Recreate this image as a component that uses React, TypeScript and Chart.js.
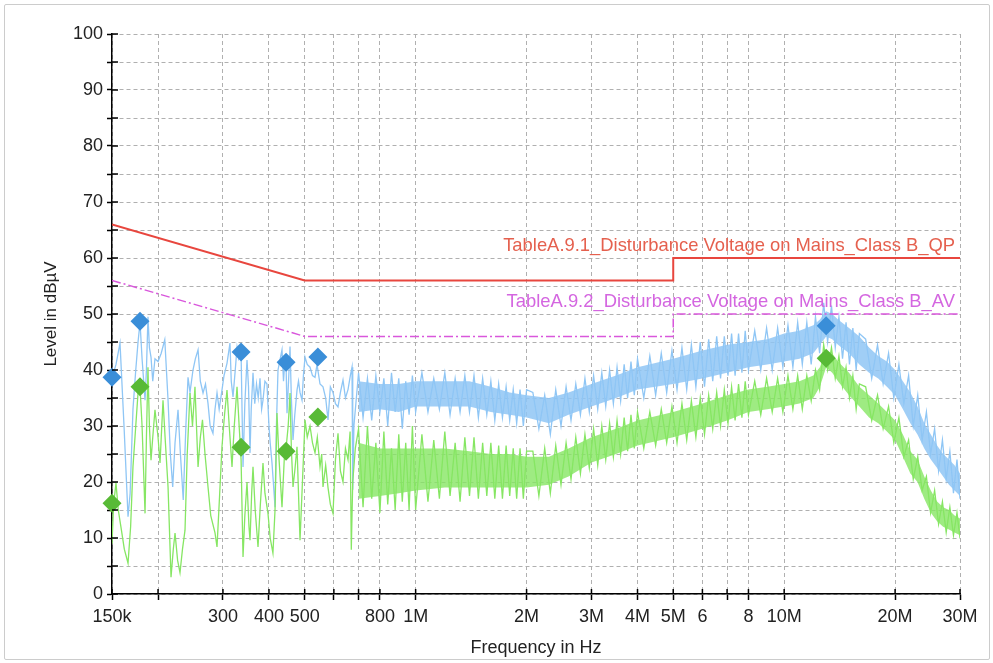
import React, { useEffect, useRef } from 'react';
import { Chart, registerables } from 'chart.js';

Chart.register(...registerables);

// ---- axis ticks ----
const X_TICKS_KHZ = [150, 200, 300, 400, 500, 600, 700, 800, 1000, 2000, 3000, 4000, 5000, 6000, 7000, 8000, 10000, 20000, 30000];
const X_TICK_LABELS = ['150k', '', '300', '400', '500', '', '', '800', '1M', '2M', '3M', '4M', '5M', '6', '', '8', '10M', '20M', '30M'];
const Y_TICKS = [0, 5, 10, 15, 20, 25, 30, 35, 40, 45, 50, 55, 60, 65, 70, 75, 80, 85, 90, 95, 100];
const Y_TICK_LABELS = ['0', '', '10', '', '20', '', '30', '', '40', '', '50', '', '60', '', '70', '', '80', '', '90', '', '100'];

// ---- limit lines ----
const LIMIT_LABELS = [
  'TableA.9.1_Disturbance Voltage on Mains_Class B_QP',
  'TableA.9.2_Disturbance Voltage on Mains_Class B_AV',
];
const qpLimitFreq = [150, 500, 5000, 5000, 30000];
const qpLimitVal = [66, 56, 56, 60, 60];
const avLimitFreq = [150, 500, 5000, 5000, 30000];
const avLimitVal = [56, 46, 46, 50, 50];

// ---- final measurement markers ----
const markFreq = [150, 178.7, 336, 445, 543, 13000];
const qpMarkVal = [38.7, 48.7, 43.2, 41.4, 42.3, 47.9];
const avMarkVal = [16.2, 37.0, 26.2, 25.5, 31.6, 42.1];

// ---- QP trace, low band [kHz, dBuV] ----
const qpLow = [
  [150, 38.5], [153.8, 41], [157.7, 44.8], [161.7, 30], [165.8, 13.8], [168, 18], [171, 33], [174, 40], [176.5, 45], [178.7, 48.5],
  [181, 42], [184.4, 34.6], [186, 40], [187.8, 49.5], [189.5, 44], [191.4, 42.3], [193.5, 38], [196.2, 42], [200, 41.5], [204, 43],
  [208.6, 45.4], [212.9, 34.6], [216, 25], [219.2, 19.1], [222.4, 27], [226.6, 32.9], [230, 25], [234.1, 16.8], [238, 30], [241.2, 38.7],
  [244.2, 36], [248.8, 40], [252.5, 42], [256.8, 43.6], [260.5, 38], [264.9, 35.9], [269, 37.5], [273.3, 34], [277, 30], [281.9, 28.7],
  [285.5, 33], [289.1, 35.9], [293, 33], [298.2, 36.4], [302, 39], [307.7, 41.2], [313.5, 44.8], [316, 38], [319.5, 35.2], [324, 40],
  [327.6, 44], [331, 42], [336, 43], [340.1, 22.7], [344, 34], [348.7, 41.8], [352, 37], [355.3, 25.2], [358, 33], [362, 39.5],
  [366, 34], [370, 37.5], [374, 35], [378.2, 38.5], [382, 33], [385.3, 34.6], [390, 38], [395, 37.5], [400, 30], [403, 27],
  [407.6, 23.4], [411, 20], [415.4, 15.5], [419, 30], [423.2, 40], [429, 42], [433.9, 43.6], [438, 38], [441, 41], [445, 41.4],
  [447.7, 32.3], [452, 38], [456.2, 44.2], [460, 35], [464.8, 27.5], [470, 32], [476.6, 36.4], [481, 38], [485.6, 36], [491.7, 34.6],
  [496, 39], [501, 42.3], [508, 41], [516.9, 40.5], [525, 39], [533.3, 38.7], [540, 41], [550.2, 37.5], [560.6, 37], [570, 35],
  [578.4, 31.1], [587, 37], [596.7, 36], [606, 34], [615.7, 33.4], [625, 36], [635.2, 38.2], [645, 35], [655.4, 36.5], [665, 39],
  [672, 40.5], [675, 18.6], [680, 30],
];

// ---- AV trace, low band [kHz, dBuV] ----
const avLow = [
  [150, 9], [151.5, 16], [153.8, 19.8], [156, 15], [158.6, 12], [162, 8], [165.8, 5.5], [168.5, 12], [171, 22.7], [174, 30],
  [176.5, 35.9], [178.7, 37], [181, 30], [184.4, 14.4], [186, 28], [187.8, 40.5], [189.5, 30], [191.4, 23.9], [193.5, 28], [196.2, 32.9],
  [200, 28], [202.5, 23.4], [206.3, 34.6], [209, 28], [212.9, 19.1], [216.9, 3], [220, 8], [222.4, 10.9], [226, 6], [229.4, 3.8],
  [233, 8], [236.7, 11.4], [240, 25], [244.2, 35.9], [248, 30], [251.9, 37], [256.8, 22.7], [260.5, 28], [264, 31.1], [268.2, 25],
  [273.3, 19.1], [278, 14], [285.5, 10.9], [289.1, 8.4], [294, 18], [298.2, 26.3], [303, 32], [307.7, 36.4], [312, 30], [317.5, 22.7],
  [322, 30], [327.6, 37], [332, 30], [336, 24], [340.1, 6.6], [344, 14], [348.7, 20], [353, 12], [355.3, 9.6], [359, 18],
  [362, 22.7], [367, 15], [373.5, 8.4], [379, 16], [385.3, 23.4], [390, 18], [397.5, 14.4], [403, 10], [410, 7.3], [415.4, 15],
  [420.5, 32.3], [426, 24], [433.9, 15.5], [440, 24], [445, 26], [451, 30], [456.2, 35.9], [460, 26], [464.8, 19.1], [470, 22],
  [476.6, 26.3], [481, 18], [485.6, 9.6], [493, 20], [501, 31.1], [508, 28], [516.9, 30], [525, 27], [533.3, 25.2], [541, 28],
  [550.2, 22.7], [556, 25], [560.6, 19.1], [570, 23], [578.4, 19], [587, 16], [596.7, 14.4], [606, 24], [615.7, 28.7], [625, 22],
  [635.2, 20], [645, 26], [655.4, 24], [664, 29], [669, 7.9], [675, 20], [686, 26],
];

// ---- dense band (700 kHz .. 30 MHz), kHz ----
const denseFreq = [
  700, 720, 740, 760, 780, 800, 820, 840, 860, 880, 900, 920, 940, 960, 980, 1000,
  1040, 1080, 1120, 1160, 1200, 1240, 1280, 1320, 1360, 1400, 1440, 1480, 1520, 1560, 1600, 1640, 1680, 1720, 1760, 1800, 1840, 1880, 1920, 1960, 2000,
  2080, 2160, 2240, 2320, 2400, 2480, 2560, 2640, 2720, 2800, 2880, 2960, 3040, 3120, 3200, 3280, 3360, 3440, 3520, 3600, 3680, 3760, 3840, 3920, 4000,
  4160, 4320, 4480, 4640, 4800, 4960, 5120, 5280, 5440, 5600, 5760, 5920, 6080, 6240, 6400, 6560, 6720, 6880, 7040, 7200, 7360, 7520, 7680, 7840, 8000,
  8320, 8640, 8960, 9280, 9600, 9920, 10240, 10560, 10880, 11200, 11520, 11840, 12160, 12480, 12800, 13120, 13440, 13760, 14080, 14400, 14720, 15040, 15360, 15680, 16000,
  16640, 17280, 17920, 18560, 19200, 19840, 20480, 21120, 21760, 22400, 23040, 23680, 24320, 24960, 25600, 26240, 26880, 27520, 28160, 28800, 29440, 30000,
];
const qpDense = [
  39.5, 31.5, 38.5, 31, 39, 32.5, 38.5, 30, 39.5, 32.5, 38.5, 29.5, 38, 32, 39, 32.5,
  39.5, 32.5, 38.5, 33, 39.5, 32, 38.5, 32.5, 39, 32.5, 39, 31.5, 38.5, 32, 38, 31, 37.5, 31.5, 37, 31, 36.5, 30.5, 36.5, 30, 36.5,
  36, 29.5, 35.5, 28.5, 36.5, 30, 37, 31, 37.5, 32, 38.5, 32.5, 39, 33, 39.5, 33.5, 40, 34, 40.5, 34.5, 41, 35, 41.5, 35.5, 42,
  35, 42.5, 35.5, 43, 36, 43.5, 36.5, 44, 36.5, 44.5, 37, 45, 37, 45.5, 38, 46, 38.5, 46, 39, 46.5, 39, 46.5, 39.5, 47, 40,
  47, 40, 47.5, 40, 47.5, 40.5, 48, 40.5, 48.5, 41, 48.5, 41, 49.5, 43, 52, 45, 51.5, 44, 49.5, 42, 48.5, 41, 47.5, 40, 46.5,
  45.5, 38.5, 44.5, 37.5, 43, 35, 41, 34, 39, 30, 35.5, 27.5, 32.5, 25, 29.5, 22, 27.5, 20.5, 25.5, 18, 24, 17,
];
const avDense = [
  29.5, 15.5, 30, 17, 27, 14.5, 29, 16, 26, 15, 28.5, 16.5, 27, 15, 30, 15,
  28.5, 16.5, 27.5, 17, 29, 17.5, 27, 16.5, 28, 17.5, 28, 17, 27, 17.5, 27, 17, 26.5, 17, 26.5, 17.5, 26, 17, 26, 17, 25.5,
  25.5, 17.5, 26, 18, 26.5, 19.5, 27, 20.5, 28, 21.5, 28.5, 22.5, 29.5, 23, 30, 24, 30.5, 24.5, 31, 25, 31.5, 25.5, 32, 26, 32.5,
  26, 32.5, 26.5, 33, 27, 33.5, 27, 34, 27.5, 34.5, 28, 35, 28.5, 35.5, 29.5, 36, 30, 36.5, 30.5, 37, 31, 37.5, 31.5, 38, 32,
  38, 32, 38.5, 32.5, 38.5, 32.5, 39, 33, 39, 33, 39, 34.5, 40, 36.5, 44.5, 40, 44, 38.5, 42.5, 37, 40.5, 35, 39, 33, 37.5,
  37, 31, 35.5, 29.5, 33.5, 27, 31.5, 24.5, 27.5, 20.5, 24.5, 18.5, 21, 14.5, 18.5, 12.5, 16.5, 11, 15.5, 10.5, 14.5, 10,
];

// ---- solid body of the dense noise band (envelope), kHz ----
const bandFreq = [
  700, 800, 900, 1000, 1200, 1400, 1600, 1800, 2000, 2300, 2600, 3000, 3500, 4000, 5000, 6000, 7000, 8000, 9000, 10000,
  11000, 12000, 12500, 13000, 13500, 14000, 15000, 16000, 17000, 18000, 19000, 20000, 21000, 22000, 23000, 24000, 25000,
  26000, 27000, 28000, 29000, 30000,
];
const qpBandHi = [
  38, 37.5, 37.5, 38, 38, 38, 37, 36, 35.5, 35, 36, 37.5, 39, 40.5, 42, 43.5, 44.5, 45, 45.5, 46.5,
  47, 48, 49, 50.5, 50, 49, 47.5, 46, 44, 42.5, 41.5, 40, 38, 36, 33.5, 30.5, 28.5,
  26.5, 25, 24, 23, 21.5,
];
const qpBandLo = [
  32.5, 33, 32.5, 33.5, 33.5, 33.5, 32.5, 32, 31.5, 30.5, 32, 33.5, 35, 36.5, 37.5, 38.5, 39.5, 40.5, 41, 41.5,
  42, 43, 44.5, 46, 45.5, 44.5, 43, 41, 39.5, 38.5, 37, 35.5, 33, 30.5, 28.5, 26, 24,
  22.5, 21, 19.5, 18.5, 17.5,
];
const avBandHi = [
  27, 26, 26, 26, 26, 25.5, 25, 25, 24.5, 24.5, 26, 28, 29.5, 31, 32.5, 34, 35.5, 36.5, 37, 37.5,
  38, 39, 40.5, 43.5, 43, 41.5, 39.5, 37, 35.5, 34, 32.5, 31, 28.5, 25.5, 24, 21, 18.5,
  16.5, 15.5, 15, 14, 13.5,
];
const avBandLo = [
  17, 17.5, 18, 18.5, 19, 19, 19, 19, 19, 19.5, 21, 23.5, 25, 26.5, 28, 29.5, 31, 32.5, 33, 33.5,
  34, 35, 37, 40.5, 39.5, 38, 35.5, 33.5, 31.5, 30.5, 29, 27.5, 24.5, 21.5, 20, 17, 14.5,
  13, 12, 11.5, 11, 10.5,
];

const FONT = '"Liberation Sans", Arial, sans-serif';
const QP_COLOR = '#8fc6f5';
const AV_COLOR = '#86e663';

const overlayPlugin = {
  id: 'overlay',
  afterDatasetsDraw(chart: any) {
    const { ctx, scales } = chart;
    const x = scales.x;
    const y = scales.y;
    ctx.save();
    ctx.font = `18.4px ${FONT}`;
    ctx.textAlign = 'right';
    ctx.textBaseline = 'middle';
    const xr = x.getPixelForValue(30000 * 1000) - 5;
    ctx.fillStyle = '#e5604e';
    ctx.fillText(LIMIT_LABELS[0], xr, y.getPixelForValue(qpLimitVal[4]) - 12);
    ctx.fillStyle = '#d466e0';
    ctx.fillText(LIMIT_LABELS[1], xr, y.getPixelForValue(avLimitVal[4]) - 12);
    ctx.restore();
  },
  afterDraw(chart: any) {
    const { ctx, chartArea, scales } = chart;
    ctx.save();
    ctx.strokeStyle = '#000';
    ctx.lineWidth = 1.5;
    ctx.beginPath();
    for (const t of Y_TICKS) {
      const py = scales.y.getPixelForValue(t);
      ctx.moveTo(chartArea.left, py);
      ctx.lineTo(chartArea.left + 6, py);
    }
    for (const t of X_TICKS_KHZ) {
      const px = scales.x.getPixelForValue(t * 1000);
      ctx.moveTo(px, chartArea.bottom);
      ctx.lineTo(px, chartArea.bottom - 5);
    }
    ctx.stroke();
    ctx.restore();
  },
};

const pts = (f: number[], v: number[]) => f.map((k, i) => ({ x: k * 1000, y: v[i] }));
const pairPts = (arr: number[][]) => arr.map(([k, v]) => ({ x: k * 1000, y: v }));

export default function App() {
  const ref = useRef<HTMLCanvasElement>(null);

  useEffect(() => {
    if (!ref.current) return;
    const qpTrace = [...pairPts(qpLow), ...pts(denseFreq, qpDense)];
    const avTrace = [...pairPts(avLow), ...pts(denseFreq, avDense)];
    const chart = new Chart(ref.current, {
      type: 'line',
      data: {
        datasets: [
          {
            label: 'QP final',
            data: pts(markFreq, qpMarkVal),
            showLine: false,
            pointStyle: 'rectRot',
            pointRadius: 9.5,
            pointBorderWidth: 0,
            backgroundColor: '#3a8ed8',
            borderColor: '#3a8ed8',
            clip: false,
            order: 0,
          },
          {
            label: 'AV final',
            data: pts(markFreq, avMarkVal),
            showLine: false,
            pointStyle: 'rectRot',
            pointRadius: 9.5,
            pointBorderWidth: 0,
            backgroundColor: '#58ba36',
            borderColor: '#58ba36',
            clip: false,
            order: 0,
          },
          {
            label: 'QP limit',
            data: pts(qpLimitFreq, qpLimitVal),
            borderColor: '#e8463e',
            borderWidth: 2,
            pointRadius: 0,
            tension: 0,
            order: 1,
          },
          {
            label: 'AV limit',
            data: pts(avLimitFreq, avLimitVal),
            borderColor: '#d957dc',
            borderWidth: 1.5,
            borderDash: [9, 3, 2, 3],
            pointRadius: 0,
            tension: 0,
            order: 1,
          },
          {
            label: 'AV trace',
            data: avTrace,
            borderColor: AV_COLOR,
            borderWidth: 1.3,
            pointRadius: 0,
            tension: 0,
            order: 2,
          },
          {
            label: 'QP trace',
            data: qpTrace,
            borderColor: QP_COLOR,
            borderWidth: 1.3,
            pointRadius: 0,
            tension: 0,
            order: 4,
          },
          {
            label: 'QP band lo',
            data: pts(bandFreq, qpBandLo),
            borderWidth: 0,
            borderColor: 'rgba(0,0,0,0)',
            pointRadius: 0,
            fill: false,
            order: 5,
          },
          {
            label: 'QP band hi',
            data: pts(bandFreq, qpBandHi),
            borderWidth: 0,
            borderColor: 'rgba(0,0,0,0)',
            backgroundColor: 'rgba(143,198,245,0.85)',
            pointRadius: 0,
            fill: '-1',
            order: 5,
          },
          {
            label: 'AV band lo',
            data: pts(bandFreq, avBandLo),
            borderWidth: 0,
            borderColor: 'rgba(0,0,0,0)',
            pointRadius: 0,
            fill: false,
            order: 3,
          },
          {
            label: 'AV band hi',
            data: pts(bandFreq, avBandHi),
            borderWidth: 0,
            borderColor: 'rgba(0,0,0,0)',
            backgroundColor: 'rgba(134,230,99,0.8)',
            pointRadius: 0,
            fill: '-1',
            order: 3,
          },
        ],
      },
      options: {
        responsive: false,
        animation: false,
        devicePixelRatio: 1,
        layout: { padding: { left: 0, top: 34, right: 33, bottom: 0 } },
        plugins: { legend: { display: false }, tooltip: { enabled: false } },
        scales: {
          x: {
            type: 'logarithmic',
            min: 150000,
            max: 30000000,
            afterFit: (s: any) => { s.height = 69; },
            afterBuildTicks: (s: any) => { s.ticks = X_TICKS_KHZ.map((v) => ({ value: v * 1000 })); },
            ticks: {
              autoSkip: false,
              maxRotation: 0,
              minRotation: 0,
              padding: 6,
              color: '#222',
              font: { family: FONT, size: 18 },
              callback: (_v: any, i: number) => X_TICK_LABELS[i],
            },
            grid: {
              color: '#b0b0b0',
              lineWidth: 1,
              tickColor: '#000',
              tickLength: 6,
              tickWidth: 1.5,
            },
            border: { display: true, color: '#000', width: 1.5, dash: [4, 3] },
            title: {
              display: true,
              text: 'Frequency in Hz',
              color: '#222',
              font: { family: FONT, size: 18 },
              padding: { top: 0, bottom: 4 },
            },
          },
          y: {
            type: 'linear',
            min: 0,
            max: 100,
            afterFit: (s: any) => { s.width = 112; },
            afterBuildTicks: (s: any) => { s.ticks = Y_TICKS.map((v) => ({ value: v })); },
            ticks: {
              autoSkip: false,
              padding: 4,
              color: '#222',
              font: { family: FONT, size: 18 },
              callback: (_v: any, i: number) => Y_TICK_LABELS[i],
            },
            grid: {
              color: '#b0b0b0',
              lineWidth: 1,
              tickColor: '#000',
              tickLength: 5,
              tickWidth: 1.5,
            },
            border: { display: true, color: '#000', width: 1.5, dash: [4, 3] },
            title: {
              display: true,
              text: 'Level in dBµV',
              color: '#222',
              font: { family: FONT, size: 17 },
              padding: { top: 41, bottom: 0 },
            },
          },
        },
      },
      plugins: [overlayPlugin],
    } as any);
    return () => chart.destroy();
  }, []);

  return (
    <div style={{ position: 'fixed', left: 0, top: 0, width: 993, height: 663, background: '#fff' }}>
      <div
        style={{
          position: 'absolute', left: 4, top: 4, width: 986, height: 656,
          border: '1px solid #cccccc', boxSizing: 'border-box', borderRadius: 2,
        }}
      />
      <canvas ref={ref} width={993} height={663} style={{ position: 'absolute', left: 0, top: 0, display: 'block' }} />
    </div>
  );
}
